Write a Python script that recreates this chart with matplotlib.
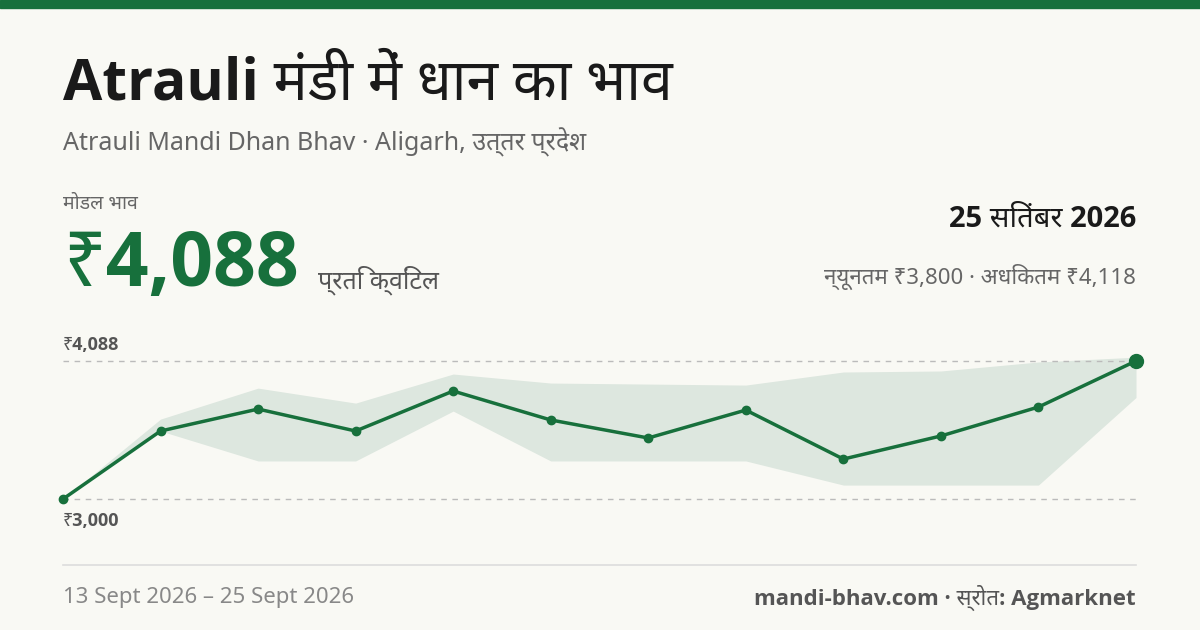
import matplotlib
matplotlib.use("Agg")
from matplotlib import pyplot as plt
from matplotlib import font_manager

# data
dates = ["13 Sept", "14 Sept", "15 Sept", "16 Sept", "17 Sept", "18 Sept",
         "19 Sept", "20 Sept", "22 Sept", "23 Sept", "24 Sept", "25 Sept"]
modal = [3000, 3536, 3709, 3536, 3851, 3623, 3481, 3701, 3315, 3497, 3725, 4088]
max_price = [3000, 3630, 3874, 3756, 3985, 3914, 3906, 3898, 4001, 4009, 4080, 4118]
min_price = [3000, 3536, 3300, 3300, 3693, 3300, 3300, 3300, 3110, 3110, 3110, 3800]

fl = font_manager.fontManager.ttflist
names = {f.name for f in fl}
fams = [f for f in ["Noto Sans", "Noto Sans Devanagari", "DejaVu Sans"] if f in names] or ["DejaVu Sans"]
plt.rcParams['font.family'] = fams


def has_bold(name):
    return any(f.name == name and f.weight in (700, "bold") for f in fl)


bold_latin = [f for f in ["Noto Sans", "Open Sans", "Roboto", "Lato", "DejaVu Sans"] if has_bold(f)]
BOLD = bold_latin[:1] + [f for f in fams if f not in bold_latin[:1]]

W, H = 1200, 630
GREEN = "#17703c"
BG = "#f9f9f4"
fig = plt.figure(figsize=(12, 6.3), dpi=100, facecolor=BG)


def fy(px):
    return 1 - px / H


def txt(x, y, s, bold=False, **kw):
    if bold:
        kw.update(fontweight="bold", family=BOLD)
    fig.text(x / W, fy(y), s, **kw)


fig.patches.append(plt.Rectangle((0, fy(8)), 1, 8 / H, transform=fig.transFigure,
                                 color=GREEN, zorder=0))
txt(63, 85, "Atrauli मंडी में धान का भाव", bold=True, fontsize=41, color="#1a1a1a", va="center")
txt(63, 142, "Atrauli Mandi Dhan Bhav · Aligarh, उत्तर प्रदेश", fontsize=18, color="#666666", va="center")
txt(63, 204, "मोडल भाव", fontsize=14, color="#666666", va="center")
txt(63, 266, "₹4,088", bold=True, fontsize=54, color=GREEN, va="center")
txt(318, 280, "प्रति क्विंटल", fontsize=18, color="#555555", va="center")
txt(1136, 219, "25 सितंबर 2026", bold=True, fontsize=21, color="#1a1a1a", va="center", ha="right")
txt(1136, 277, "न्यूनतम ₹3,800 · अधिकतम ₹4,118", fontsize=16, color="#666666", va="center", ha="right")

# chart: pixel 330..530 maps to 2756..4332
ax = fig.add_axes([63 / W, fy(530), (1136 - 63) / W, 200 / H])
ax.set_facecolor("none")
x = list(range(len(modal)))
ax.fill_between(x, min_price, max_price, color="#dde7df", lw=0)
for v in (3000, 4088):
    ax.axhline(v, color="#bbbbbb", ls=(0, (4, 4)), lw=1)
ax.plot(x, modal, color=GREEN, lw=2.5, marker="o", ms=6, clip_on=False, zorder=3)
ax.plot(x[-1], modal[-1], "o", color=GREEN, ms=10, clip_on=False, zorder=4)
ax.set_xlim(0, len(modal) - 1)
ax.set_ylim(2756, 4332)
ax.axis("off")

txt(63, 345, "₹4,088", bold=True, fontsize=13, color="#555555", va="center")
txt(63, 521, "₹3,000", bold=True, fontsize=13, color="#555555", va="center")

fig.add_artist(plt.Line2D([63 / W, 1136 / W], [fy(565), fy(565)], color="#dddddd", lw=1.2))
txt(63, 598, "13 Sept 2026 – 25 Sept 2026", fontsize=16, color="#888888", va="center")
txt(1136, 598, "mandi-bhav.com · स्रोत: Agmarknet", bold=True, fontsize=16,
    color="#555555", va="center", ha="right")

fig.savefig("out.png", dpi=100, facecolor=BG)
